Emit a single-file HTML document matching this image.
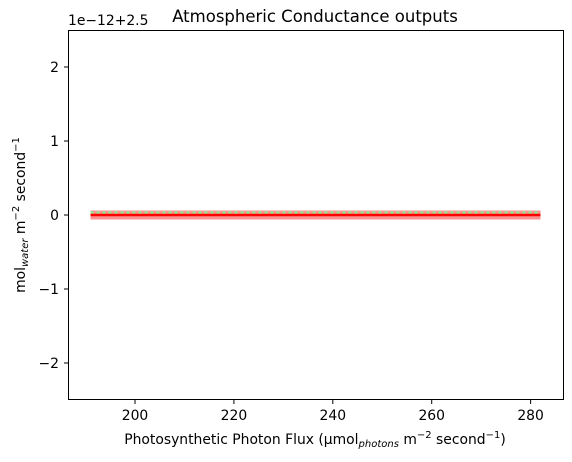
<!DOCTYPE html>
<html><head><meta charset="utf-8"><style>
body{margin:0;background:#fff;}
svg{display:block;font-family:"DejaVu Sans","Liberation Sans",sans-serif;}
</style></head><body>
<svg id="chart" width="572" height="462" viewBox="0 0 572 462">
<text x="315" y="22" font-size="16.5" text-anchor="middle">Atmospheric Conductance outputs</text>
<text x="68" y="25" font-size="13.9">1e−12+2.5</text>
<g id="xticks"></g><g id="yticks"></g><g id="series"></g>
<rect x="68.5" y="30.5" width="495" height="369" fill="none" stroke="#000" stroke-width="1"/>
<text x="315" y="444" font-size="13.9" text-anchor="middle">Photosynthetic Photon Flux (μmol<tspan font-size="10" dy="3" font-style="italic">photons</tspan><tspan dy="-3"> m</tspan><tspan font-size="10" dy="-6">−2</tspan><tspan dy="6"> second</tspan><tspan font-size="10" dy="-6">−1</tspan><tspan dy="6">)</tspan></text>
<text transform="translate(25,215) rotate(-90)" font-size="13.9" text-anchor="middle">mol<tspan font-size="10" dy="3" font-style="italic">water</tspan><tspan dy="-3"> m</tspan><tspan font-size="10" dy="-6">−2</tspan><tspan dy="6"> second</tspan><tspan font-size="10" dy="-6">−1</tspan></text>
</svg>
<script>
const xTicks=[200,220,240,260,280];
const yTicks=[-2,-1,0,1,2];
const xVals=[191,282];
const yBand=[0,0];
const yDotted=[0,0];
const ySolid=[0,0];
const NS="http://www.w3.org/2000/svg";
const X0=68,X1=563,Y0=400,Y1=30;
const xMin=186.45,xMax=286.55,yMin=-2.5,yMax=2.5;
function sx(v){return X0+(v-xMin)/(xMax-xMin)*(X1-X0);}
function sy(v){return Y0-(v-yMin)/(yMax-yMin)*(Y0-Y1);}
function mk(t,a,p){const e=document.createElementNS(NS,t);for(const k in a)e.setAttribute(k,a[k]);p.appendChild(e);return e;}
const gx=document.getElementById('xticks'),gy=document.getElementById('yticks'),gs=document.getElementById('series');
xTicks.forEach(v=>{const x=sx(v);
 const l=mk('line',{x1:x,x2:x,y1:400,y2:404,stroke:'#000'},gx);
 
 
 const t=mk('text',{x:x,y:420,'font-size':13.9,'text-anchor':'middle'},gx);t.textContent=v;
 
 });
yTicks.forEach(v=>{const y=sy(v);
 const l=mk('line',{x1:64,x2:68,y1:y,y2:y,stroke:'#000'},gy);
 
 
 const t=mk('text',{x:59,y:y+5,'font-size':13.9,'text-anchor':'end'},gy);t.textContent=(v<0?'−'+(-v):v);
 
 });
function pts(ys){return xVals.map((x,i)=>sx(x)+','+sy(ys[i])).join(' ');}
const b=mk('polyline',{points:pts(yBand),fill:'none',stroke:'#ff9090','stroke-width':9,'stroke-linecap':'butt'},gs);


const d=mk('polyline',{points:pts(yDotted.map(v=>v+0.03)),fill:'none',stroke:'#90e890','stroke-width':3,'stroke-dasharray':'3,3'},gs);


const s=mk('polyline',{points:pts(ySolid),fill:'none',stroke:'#ff0000','stroke-width':2.5},gs);


</script>
</body></html>
